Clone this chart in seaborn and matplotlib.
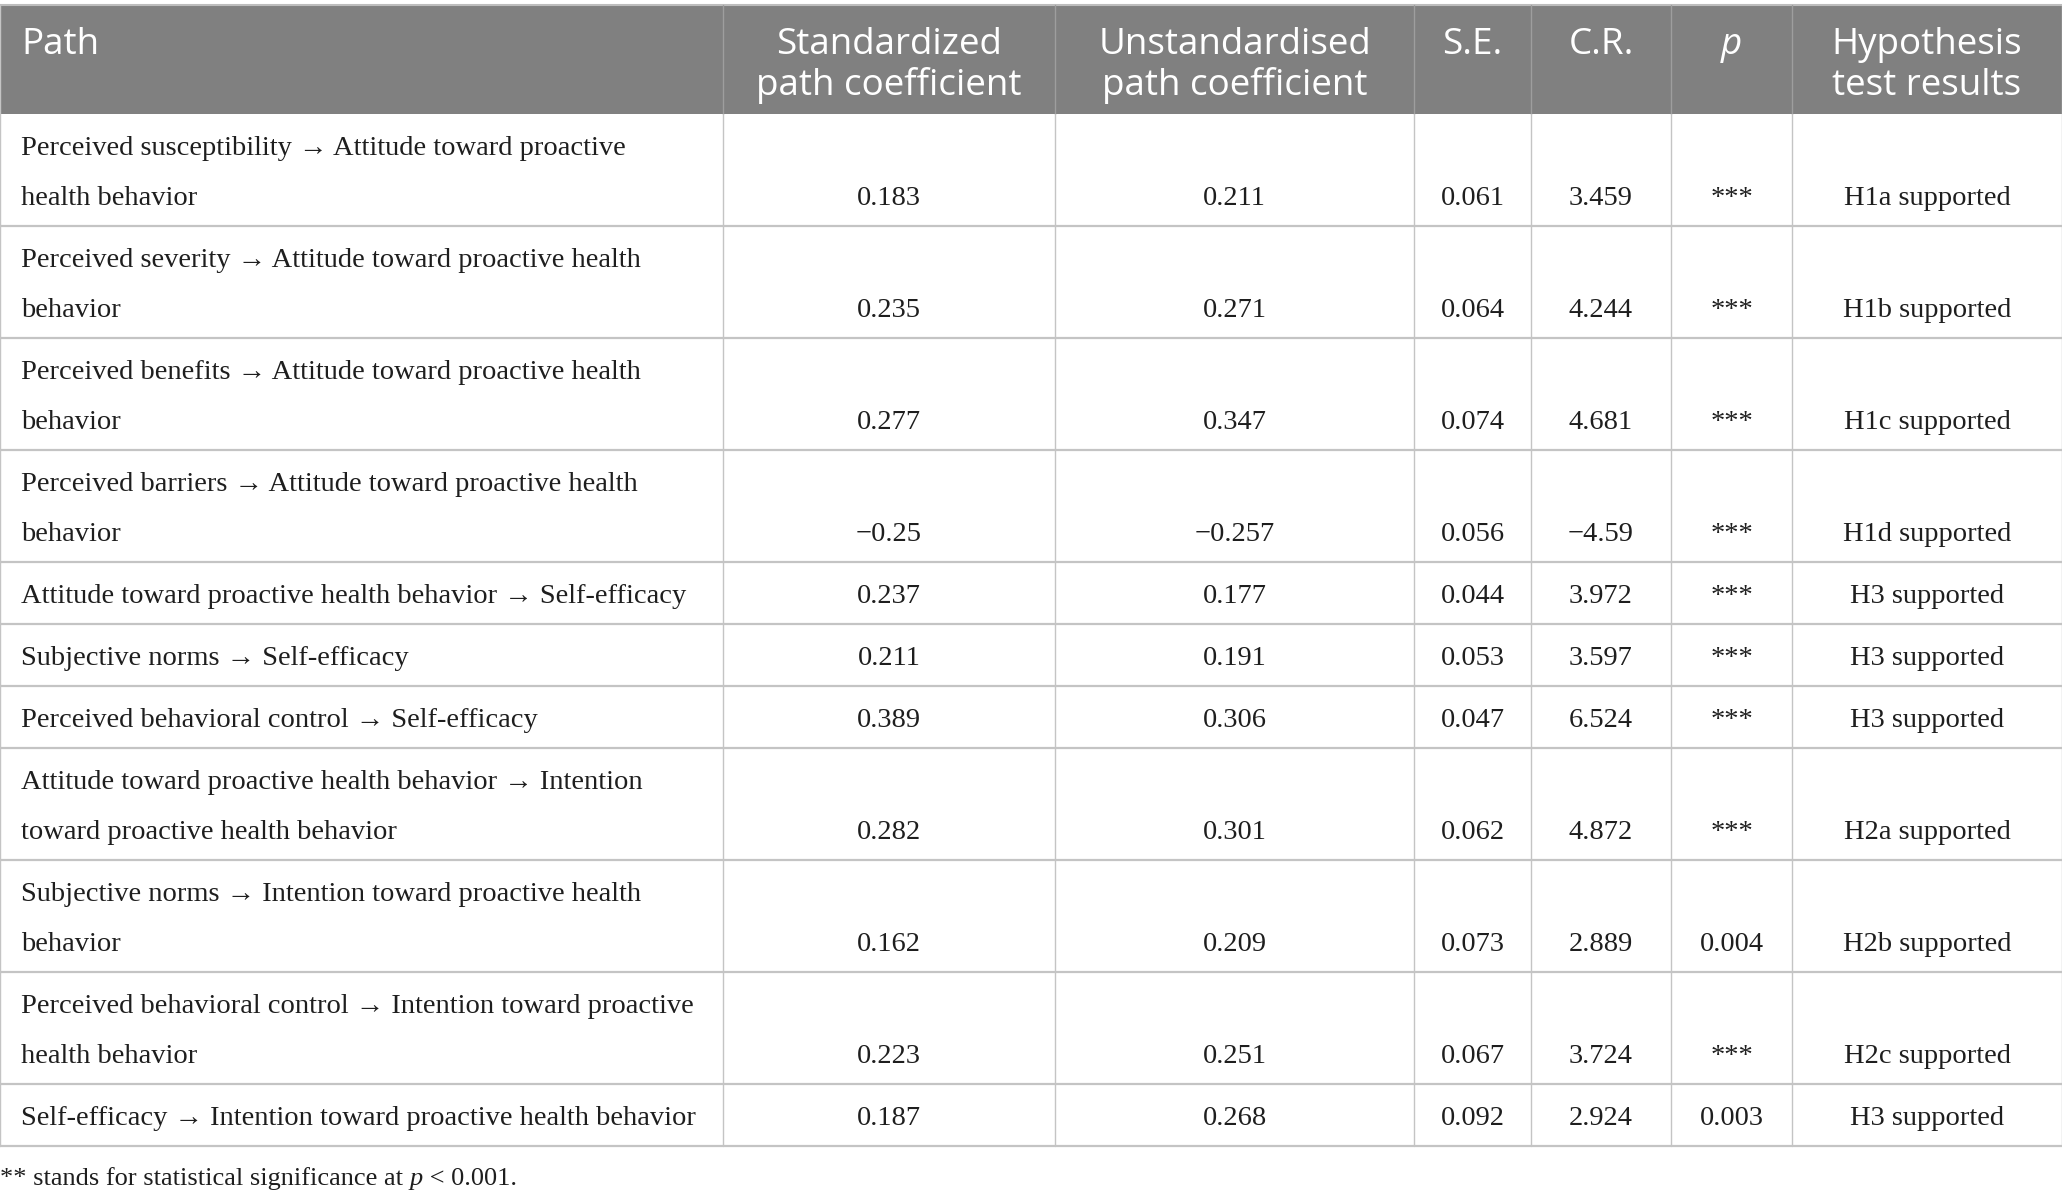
import numpy as np
import pandas as pd
import matplotlib
matplotlib.use("Agg")
import matplotlib.pyplot as plt
import seaborn as sns
from matplotlib.patches import Rectangle

header = ["Path", "Standardized\npath coefficient", "Unstandardised\npath coefficient",
          "S.E.", "C.R.", "p", "Hypothesis\ntest results"]

paths = [
    "Perceived susceptibility \u2192 Attitude toward proactive\nhealth behavior",
    "Perceived severity \u2192 Attitude toward proactive health\nbehavior",
    "Perceived benefits \u2192 Attitude toward proactive health\nbehavior",
    "Perceived barriers \u2192 Attitude toward proactive health\nbehavior",
    "Attitude toward proactive health behavior \u2192 Self-efficacy",
    "Subjective norms \u2192 Self-efficacy",
    "Perceived behavioral control \u2192 Self-efficacy",
    "Attitude toward proactive health behavior \u2192 Intention\ntoward proactive health behavior",
    "Subjective norms \u2192 Intention toward proactive health\nbehavior",
    "Perceived behavioral control \u2192 Intention toward proactive\nhealth behavior",
    "Self-efficacy \u2192 Intention toward proactive health behavior",
]
std_coef = [0.183, 0.235, 0.277, -0.25, 0.237, 0.211, 0.389, 0.282, 0.162, 0.223, 0.187]
unstd_coef = [0.211, 0.271, 0.347, -0.257, 0.177, 0.191, 0.306, 0.301, 0.209, 0.251, 0.268]
se = [0.061, 0.064, 0.074, 0.056, 0.044, 0.053, 0.047, 0.062, 0.073, 0.067, 0.092]
cr = [3.459, 4.244, 4.681, -4.59, 3.972, 3.597, 6.524, 4.872, 2.889, 3.724, 2.924]
p_val = ["***", "***", "***", "***", "***", "***", "***", "***", "0.004", "***", "0.003"]
hyp = ["H1a supported", "H1b supported", "H1c supported", "H1d supported",
       "H3 supported", "H3 supported", "H3 supported", "H2a supported",
       "H2b supported", "H2c supported", "H3 supported"]
footnote = ["** stands for statistical significance at ", "p", " < 0.001."]


def fmt(v):
    return f"{v:g}".replace("-", "\u2212")


df = pd.DataFrame({
    "path": paths,
    "std": [fmt(v) for v in std_coef],
    "unstd": [fmt(v) for v in unstd_coef],
    "se": [fmt(v) for v in se],
    "cr": [fmt(v) for v in cr],
    "p": p_val,
    "hyp": hyp,
})

sns.set_theme(style="white")
plt.rcParams["font.family"] = ["Liberation Serif", "DejaVu Serif"]

W, H = 2062, 1201
fig = plt.figure(figsize=(W / 100, H / 100), dpi=100)
ax = fig.add_axes([0, 0, 1, 1])
ax.set_xlim(0, W)
ax.set_ylim(H, 0)
ax.axis("off")

col_edges = [0, 723, 1055, 1414, 1531, 1671, 1792, 2062]
head_top, head_bot = 5, 114
line_h = 50
one_h, two_h = 62, 112
body_fs = 20.5
txt_col = "#1e1e1e"

gray_head = "#808080"
line_col = "#c4c4c4"

# header
ax.add_patch(Rectangle((0, head_top), W, head_bot - head_top, color=gray_head, lw=0))
ax.plot([0, W], [head_top, head_top], color="#bdbdbd", lw=1.5)
for x in col_edges[1:-1]:
    ax.plot([x, x], [head_top, head_bot], color="#9e9e9e", lw=1)

for i, h in enumerate(header):
    for k, ln in enumerate(h.split("\n")):
        yb = 54 + 41 * k
        style = "italic" if ln == "p" else "normal"
        if i == 0:
            xc, ha = 21, "left"
        else:
            xc, ha = (col_edges[i] + col_edges[i + 1]) / 2, "center"
        ax.text(xc, yb, ln, ha=ha, va="baseline", color="white",
                family="Open Sans", fontsize=26.5, fontstyle=style)

# body
y = head_bot
for r, row in df.iterrows():
    nlines = row["path"].count("\n") + 1
    rh = two_h if nlines == 2 else one_h
    bot = y + rh
    base = bot - 21
    for k, ln in enumerate(row["path"].split("\n")):
        ax.text(21, base - line_h * (nlines - 1 - k), ln, ha="left", va="baseline",
                fontsize=body_fs, color=txt_col)
    for i, key in enumerate(["std", "unstd", "se", "cr", "p", "hyp"], start=1):
        xc = (col_edges[i] + col_edges[i + 1]) / 2
        ax.text(xc, base, row[key], ha="center", va="baseline", fontsize=body_fs,
                color=txt_col)
    for x in col_edges[1:-1]:
        ax.plot([x, x], [y, bot], color=line_col, lw=1)
    ax.plot([0, W], [bot, bot], color=line_col, lw=1.6)
    y = bot

ax.plot([0, 0], [head_top, y], color=line_col, lw=1)
ax.plot([W, W], [head_top, y], color=line_col, lw=1)

# footnote, with italic p
fig.canvas.draw()
inv = ax.transData.inverted()
x0 = 0
for part in footnote:
    t = ax.text(x0, 1185, part, ha="left", va="baseline", fontsize=19, color=txt_col,
                fontstyle="italic" if part == "p" else "normal")
    fig.canvas.draw()
    bb = t.get_window_extent()
    x0 = inv.transform((bb.x1, bb.y0))[0]

fig.savefig("out.png", dpi=100)
